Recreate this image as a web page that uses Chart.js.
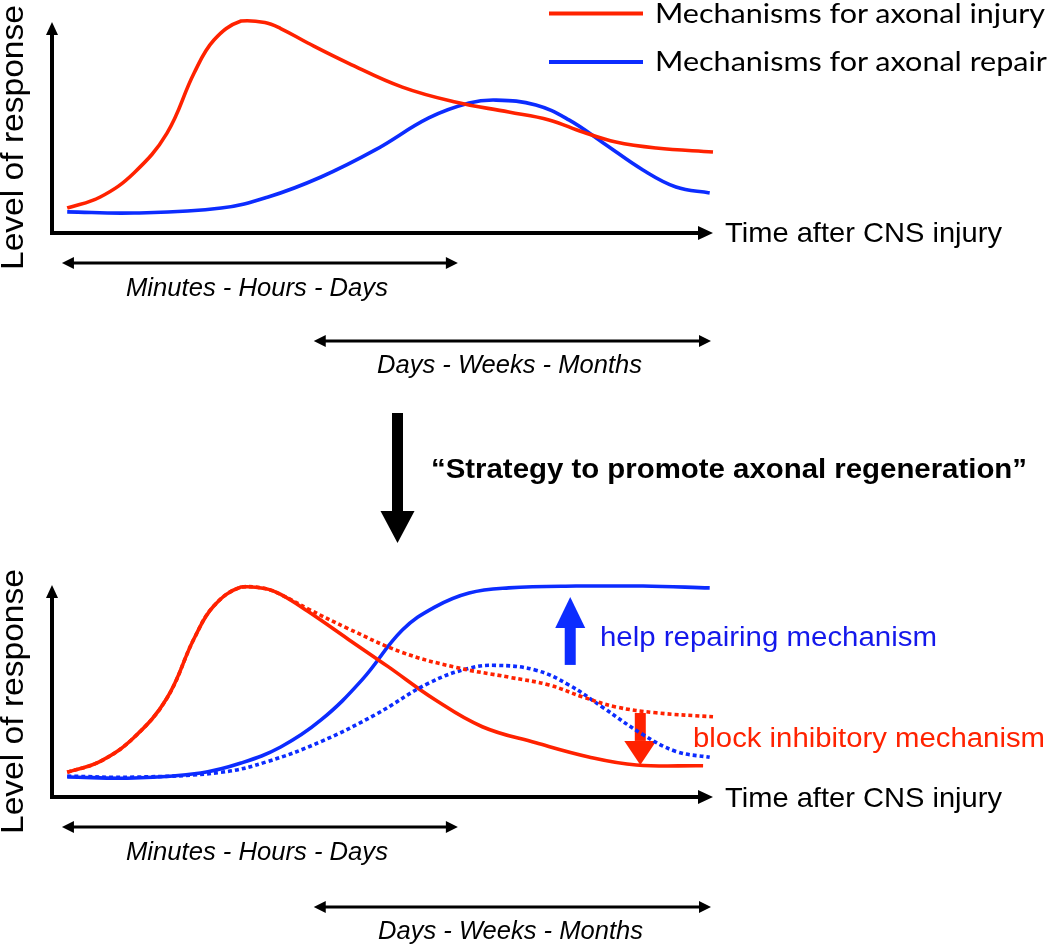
<!DOCTYPE html>
<html>
<head>
<meta charset="utf-8">
<script src="https://cdn.jsdelivr.net/npm/chart.js@4.4.1/dist/chart.umd.min.js"></script>
<style>
  html, body { margin: 0; padding: 0; background: #fff; }
  body { width: 1050px; height: 944px; position: relative; overflow: hidden; }
  canvas { position: absolute; left: 0; }
  .lbl { position: absolute; white-space: nowrap; transform-origin: 0 0; }
</style>
</head>
<body>
<canvas id="before" width="1050" height="560" style="top:0"></canvas>
<canvas id="after" width="1050" height="384" style="top:560px"></canvas>
<script>
// time runs 0..100 along the x axis, level of response 0..100 up the y axis
var injuryTime  = [2.3, 7.3, 12.4, 17.4, 21.5, 24.5, 28.6, 32.2, 34.6, 38.7, 44.8, 53.0, 61.0, 69.1, 75.2, 80.3, 85.3, 91.4, 100];
var injuryLevel = [11.7, 16.9, 28.2, 46.9, 75.1, 90.6, 99.5, 98.8, 96.0, 89.2, 79.8, 68.5, 61.5, 56.8, 53.1, 47.4, 42.7, 39.9, 38.0];

var repairTime  = [2.3, 12.4, 25.6, 32.7, 40.7, 48.9, 57.0, 63.1, 67.2, 73.2, 78.2, 83.4, 89.4, 94.4, 99.5];
var repairLevel = [9.9, 9.4, 11.7, 16.9, 26.3, 39.0, 54.0, 61.0, 62.4, 60.1, 53.1, 42.3, 29.6, 21.6, 18.8];

// after the strategy: injury blocked, repair boosted
var blockedTime  = [2.3, 7.3, 12.4, 17.4, 21.5, 24.5, 28.6, 32.2, 34.6, 38.7, 44.8, 50.8, 57.9, 65.1, 73.2, 81.2, 88.4, 98.5];
var blockedLevel = [11.7, 16.9, 28.2, 46.9, 75.1, 90.6, 99.5, 98.8, 96.0, 88.0, 74.8, 61.9, 46.2, 33.3, 25.7, 19.0, 15.2, 14.8];

var boostedTime  = [2.3, 12.4, 22.5, 28.6, 34.6, 40.7, 46.9, 53.0, 57.9, 63.1, 69.1, 79.3, 89.4, 99.5];
var boostedLevel = [9.5, 9.0, 11.4, 16.1, 23.7, 36.5, 55.5, 79.1, 90.0, 96.7, 99.1, 100, 100, 99.1];

var seriesLabels = ["Mechanisms for axonal injury", "Mechanisms for axonal repair"];
var periodLabels = ["Minutes - Hours - Days", "Days - Weeks - Months"];
var periodSpans = [[1.5, 61.4], [39.6, 99.7]];

var RED = "rgb(255,34,0)";
var BLUE = "rgb(12,44,255)";

function points(xs, ys) {
    return xs.map(function (x, i) { return {x: x, y: ys[i]}; });
}

function lineSet(label, xs, ys, color, dotted) {
    return {
        label: label,
        data: points(xs, ys),
        borderColor: color,
        borderWidth: 3.6,
        borderDash: dotted ? [4, 3] : [],
        tension: 0.4,
        pointRadius: 0,
        fill: false,
        clip: false
    };
}

function arrowLine(ctx, x1, y1, x2, y2, lw, head, half, both) {
    var a = Math.atan2(y2 - y1, x2 - x1);
    ctx.lineWidth = lw;
    ctx.beginPath();
    var sx = both ? x1 + Math.cos(a) * head * 0.8 : x1;
    var sy = both ? y1 + Math.sin(a) * head * 0.8 : y1;
    ctx.moveTo(sx, sy);
    ctx.lineTo(x2 - Math.cos(a) * head * 0.8, y2 - Math.sin(a) * head * 0.8);
    ctx.stroke();
    function tip(tx, ty, ang) {
        ctx.beginPath();
        ctx.moveTo(tx, ty);
        ctx.lineTo(tx - Math.cos(ang) * head - Math.sin(ang) * half, ty - Math.sin(ang) * head + Math.cos(ang) * half);
        ctx.lineTo(tx - Math.cos(ang) * head + Math.sin(ang) * half, ty - Math.sin(ang) * head - Math.cos(ang) * half);
        ctx.closePath();
        ctx.fill();
    }
    tip(x2, y2, a);
    if (both) tip(x1, y1, a + Math.PI);
}

function blockArrow(ctx, x, yFrom, yTo, shaftHalf, head, half, color) {
    var dir = yTo < yFrom ? -1 : 1;
    var base = yTo - dir * head;
    ctx.fillStyle = color;
    ctx.fillRect(x - shaftHalf, Math.min(yFrom, base), shaftHalf * 2, Math.abs(base - yFrom));
    ctx.beginPath();
    ctx.moveTo(x - half, base);
    ctx.lineTo(x + half, base);
    ctx.lineTo(x, yTo);
    ctx.closePath();
    ctx.fill();
}

var sketchPlugin = {
    id: "sketch",
    beforeDatasetsDraw: function (chart, args, opts) {
        var ctx = chart.ctx, a = chart.chartArea, xs = chart.scales.x, ys = chart.scales.y;
        ctx.save();
        ctx.strokeStyle = "#000";
        ctx.fillStyle = "#000";
        // axes with arrow heads
        arrowLine(ctx, a.left, a.bottom + 2, a.left, a.top + opts.yTip, 4, 13, 6, false);
        arrowLine(ctx, a.left - 2, a.bottom, a.right, a.bottom, 4, 15, 7, false);
        // period ranges under the time axis
        periodSpans.forEach(function (s, i) {
            var y = a.bottom + opts.rangeOffsets[i];
            arrowLine(ctx, xs.getPixelForValue(s[0]), y, xs.getPixelForValue(s[1]), y, 3.2, 12, 6, true);
        });
        (opts.blocks || []).forEach(function (b) {
            blockArrow(ctx, xs.getPixelForValue(b.at), ys.getPixelForValue(b.from), ys.getPixelForValue(b.to),
                5.5, b.head, b.half, b.color);
        });
        if (opts.legend) {
            chart.data.datasets.forEach(function (d, i) {
                ctx.strokeStyle = d.borderColor;
                ctx.lineWidth = 4;
                ctx.beginPath();
                ctx.moveTo(549, 13.5 + i * 48.5);
                ctx.lineTo(643, 13.5 + i * 48.5);
                ctx.stroke();
            });
        }
        if (opts.bigArrow) {
            blockArrow(ctx, 397.5, 413, 543, 5.5, 32, 17, "#000");
        }
        ctx.restore();
    }
};

function baseOptions(padding, extra) {
    return {
        responsive: false,
        animation: false,
        events: [],
        layout: {padding: padding},
        plugins: {legend: {display: false}, tooltip: {enabled: false}, sketch: extra},
        scales: {
            x: {type: "linear", min: 0, max: 100, display: false},
            y: {min: 0, max: 100, display: false}
        }
    };
}

new Chart(document.getElementById("before"), {
    type: "line",
    data: {
        datasets: [
            lineSet(seriesLabels[0], injuryTime, injuryLevel, RED, false),
            lineSet(seriesLabels[1], repairTime, repairLevel, BLUE, false)
        ]
    },
    options: baseOptions({left: 52, top: 20, right: 337, bottom: 327},
        {yTip: 2, rangeOffsets: [30, 108], legend: true, bigArrow: true}),
    plugins: [sketchPlugin]
});

new Chart(document.getElementById("after"), {
    type: "line",
    data: {
        datasets: [
            lineSet(seriesLabels[0], injuryTime, injuryLevel, RED, true),
            lineSet(seriesLabels[1], repairTime, repairLevel, BLUE, true),
            lineSet("blocked injury", blockedTime, blockedLevel, RED, false),
            lineSet("boosted repair", boostedTime, boostedLevel, BLUE, false)
        ]
    },
    options: baseOptions({left: 52, top: 26, right: 337, bottom: 147},
        {yTip: -1, rangeOffsets: [30, 110], blocks: [
            {at: 78.4, from: 62.6, to: 94.8, head: 31, half: 15, color: BLUE},
            {at: 89.0, from: 39.8, to: 15.2, head: 24, half: 16, color: RED}
        ]}),
    plugins: [sketchPlugin]
});

// text as real html text, placed by baseline and fitted to the measured width
var METRIC = {"Lato": 0.387, "Liberation Sans": 0.3465};

function label(text, font, size, left, width, baseline, opt) {
    opt = opt || {};
    var el = document.createElement("div");
    el.className = "lbl";
    el.textContent = text;
    var lh = Math.round(size * 1.3);
    el.style.font = (opt.style || "normal") + " " + (opt.weight || 400) + " " + size + "px '" + font + "'";
    el.style.lineHeight = lh + "px";
    el.style.color = opt.color || "#000";
    var yb = lh / 2 + METRIC[font] * size;
    document.body.appendChild(el);
    var w = el.getBoundingClientRect().width;
    var s = width / w;
    if (opt.rotate) {
        // reads bottom to top: left is the start y, baseline sits at x = left
        el.style.left = "0px";
        el.style.top = "0px";
        el.style.transform = "translate(" + (baseline - yb) + "px," + left + "px) rotate(-90deg) scaleX(" + s + ")";
    } else {
        el.style.left = left + "px";
        el.style.top = (baseline - yb) + "px";
        el.style.transform = "scaleX(" + s + ")";
    }
}

function drawLabels() {
    document.querySelectorAll(".lbl").forEach(function (e) { e.remove(); });
    label(seriesLabels[0], "Lato", 26, 655, 390, 23);
    label(seriesLabels[1], "Lato", 26, 655, 392, 71);

    label("Level of response", "Liberation Sans", 31, 270, 265, 24, {rotate: true});
    label("Level of response", "Liberation Sans", 31, 834, 265, 24, {rotate: true});

    label("Time after CNS injury", "Liberation Sans", 28.5, 725, 277, 242);
    label("Time after CNS injury", "Liberation Sans", 28.5, 725, 277, 807);

    label(periodLabels[0], "Liberation Sans", 25, 126, 262, 296, {style: "italic"});
    label(periodLabels[1], "Liberation Sans", 25, 377, 265, 373, {style: "italic"});
    label(periodLabels[0], "Liberation Sans", 25, 126, 262, 860, {style: "italic"});
    label(periodLabels[1], "Liberation Sans", 25, 378, 265, 939, {style: "italic"});

    label("\u201CStrategy to promote axonal regeneration\u201D", "Liberation Sans", 28, 431, 596, 479, {weight: 700});

    label("help repairing mechanism", "Liberation Sans", 27, 600, 337, 647, {color: "rgb(20,24,235)"});
    label("block inhibitory mechanism", "Liberation Sans", 27, 693, 352, 748, {color: RED});
}

drawLabels();
if (document.fonts && document.fonts.ready) document.fonts.ready.then(drawLabels);
</script>
</body>
</html>
